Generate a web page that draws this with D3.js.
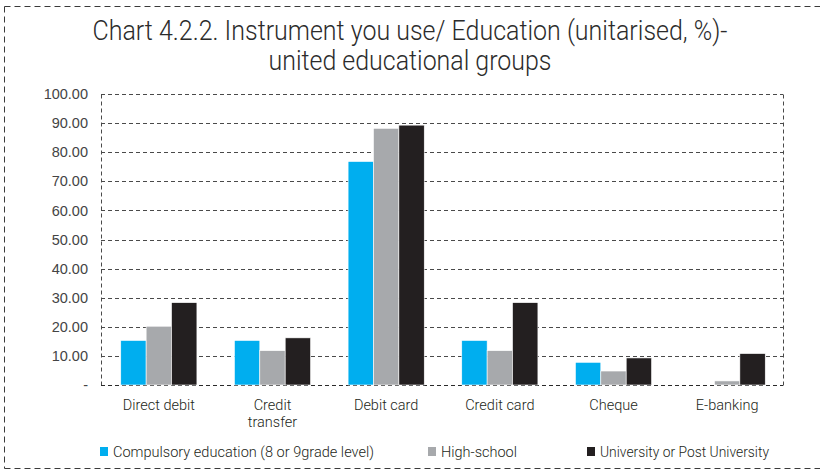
<!DOCTYPE html>
<html>
<head>
<meta charset="utf-8">
<script src="https://cdn.jsdelivr.net/npm/d3@7/dist/d3.min.js"></script>
<style>
  html, body { margin: 0; padding: 0; background: #fff; }
  svg { display: block; }
  .light { font-family: Roboto, "Open Sans", "Liberation Sans", sans-serif; font-weight: 300; }
  .tick-label { font-family: "Liberation Sans", Arial, sans-serif; }
</style>
</head>
<body>
<svg id="chart" width="820" height="471"></svg>
<script>
// Payment instruments used, by education level (%)
const categories = [["Direct debit"], ["Credit", "transfer"], ["Debit card"], ["Credit card"], ["Cheque"], ["E-banking"]];
const seriesNames = ["Compulsory education (8 or 9grade level)", "High-school", "University or Post University"];
const seriesColors = ["#00AEEF", "#A7A9AC", "#231F20"];
const compulsory = [15.3, 15.3, 76.8, 15.3, 7.8, 0];
const highSchool = [20.2, 11.8, 88.2, 11.8, 4.8, 1.4];
const university = [28.3, 16.2, 89.3, 28.3, 9.3, 10.8];
const yTicks = [0, 10, 20, 30, 40, 50, 60, 70, 80, 90, 100];
const titleLines = ["Chart 4.2.2. Instrument you use/ Education (unitarised, %)-", "united educational groups"];

const series = [compulsory, highSchool, university];
const catKeys = categories.map(c => c.join(" "));

const svg = d3.select("#chart");
const W = 820, H = 471;
const plot = { left: 101, right: 783, top: 94, bottom: 385 };

// Dashed frame (top, left, bottom edges)
const frame = svg.append("g").attr("stroke", "#3a3a3a").attr("stroke-width", 1)
  .attr("stroke-dasharray", "6,4").attr("fill", "none");
frame.append("line").attr("x1", 4.5).attr("x2", W).attr("y1", 6.5).attr("y2", 6.5);
frame.append("line").attr("x1", 4.5).attr("x2", 4.5).attr("y1", 6.5).attr("y2", 468.5);
frame.append("line").attr("x1", 4.5).attr("x2", W).attr("y1", 468.5).attr("y2", 468.5);

// Title, fitted to its column width
const titleWidths = [635, 283];
svg.append("g").selectAll("text").data(titleLines).join("text")
  .attr("class", "light")
  .attr("x", 410).attr("y", (d, i) => 40 + i * 30)
  .attr("text-anchor", "middle")
  .attr("font-size", 27)
  .attr("textLength", (d, i) => titleWidths[i]).attr("lengthAdjust", "spacingAndGlyphs")
  .attr("fill", "#2b2b2b")
  .text(d => d);

// Scales
const x0 = d3.scaleBand().domain(catKeys).range([plot.left + 1, plot.right + 1])
  .paddingInner(0.33).paddingOuter(0.165);
const x1 = d3.scaleBand().domain(d3.range(series.length)).range([0, x0.bandwidth()]);
const y = d3.scaleLinear().domain([0, 100]).range([plot.bottom, plot.top]);

// Gridlines
svg.append("g").selectAll("line").data(yTicks.filter(t => t > 0)).join("line")
  .attr("x1", plot.left).attr("x2", plot.right)
  .attr("y1", d => Math.round(y(d)) + 0.5).attr("y2", d => Math.round(y(d)) + 0.5)
  .attr("stroke", "#4a4a4a").attr("stroke-width", 1).attr("stroke-dasharray", "4,3");

// Plot area left and right edges, baseline
const edges = svg.append("g").attr("stroke", "#4a4a4a").attr("stroke-width", 1)
  .attr("stroke-dasharray", "4,3");
edges.append("line").attr("x1", plot.left + 0.5).attr("x2", plot.left + 0.5)
  .attr("y1", Math.round(y(100)) + 0.5).attr("y2", Math.round(y(0)) + 0.5);
edges.append("line").attr("x1", plot.right + 0.5).attr("x2", plot.right + 0.5)
  .attr("y1", Math.round(y(100)) + 0.5).attr("y2", Math.round(y(0)) + 0.5);
edges.append("line").attr("x1", plot.left).attr("x2", plot.right)
  .attr("y1", Math.round(y(0)) + 0.5).attr("y2", Math.round(y(0)) + 0.5)
  .attr("stroke", "#2a2a2a");

// Bars
const groups = svg.append("g").selectAll("g").data(catKeys).join("g")
  .attr("transform", d => `translate(${x0(d)},0)`);
groups.selectAll("rect")
  .data((d, ci) => series.map((s, si) => ({ si, v: s[ci] })))
  .join("rect")
  .attr("x", d => x1(d.si))
  .attr("width", x1.bandwidth())
  .attr("y", d => y(d.v))
  .attr("height", d => y(0) - y(d.v))
  .attr("fill", d => seriesColors[d.si])
  .attr("stroke", d => d.v > 0 ? "#ffffff" : "none")
  .attr("stroke-width", 0.6);

// Y axis labels
const yAxis = d3.axisLeft(y).tickValues(yTicks).tickSize(0).tickPadding(0)
  .tickFormat(d => d === 0 ? "-" : d3.format(".2f")(d));
const yg = svg.append("g").attr("transform", `translate(88,0)`).call(yAxis);
yg.select(".domain").remove();
yg.selectAll("text").attr("class", "tick-label")
  .attr("font-size", 14.5).attr("fill", "#444").attr("dx", 0);

// Category labels (one text per line)
const labelLines = categories.flatMap((lines, ci) =>
  lines.map((t, li) => ({ t, ci, li })));
svg.append("g").selectAll("text").data(labelLines).join("text")
  .attr("class", "light")
  .attr("x", d => x0(catKeys[d.ci]) + x0.bandwidth() / 2)
  .attr("y", d => 410 + d.li * 17)
  .attr("text-anchor", "middle")
  .attr("font-size", 14.5).attr("fill", "#231F20")
  .text(d => d.t);

// Legend
const legendX = [100, 428, 587];
const legendWidths = [261, 76, 169];
const legend = svg.append("g").selectAll("g").data(seriesNames).join("g")
  .attr("transform", (d, i) => `translate(${legendX[i]},447)`);
legend.append("rect").attr("width", 8).attr("height", 9).attr("y", 0)
  .attr("fill", (d, i) => seriesColors[i]);
legend.append("text").attr("class", "light")
  .attr("x", 13).attr("y", 10)
  .attr("font-size", 15).attr("fill", "#231F20")
  .attr("textLength", (d, i) => legendWidths[i]).attr("lengthAdjust", "spacingAndGlyphs")
  .text(d => d);
</script>
</body>
</html>
